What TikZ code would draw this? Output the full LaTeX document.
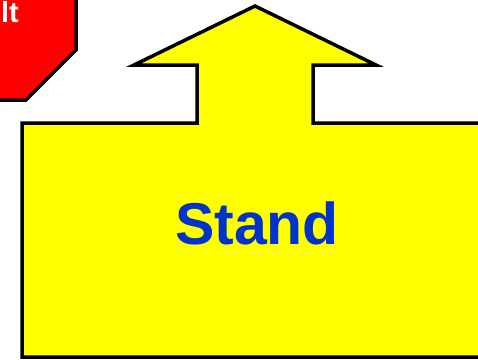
\documentclass[tikz,border=0pt]{standalone}
\usepackage{fontspec}
\setmainfont{Liberation Sans}
\definecolor{standblue}{RGB}{0,51,204}
\definecolor{signred}{RGB}{255,0,0}
\definecolor{signyellow}{RGB}{255,255,0}
\begin{document}
\begin{tikzpicture}[x=1pt,y=1pt,yscale=-1,xscale=1]
\useasboundingbox (0,0) rectangle (478,359);
\clip (0,0) rectangle (478,359);

%Shape: Octagon [id:halt]
\draw [line width=3.5, fill=signred] (-60,-60) -- (76,-60) -- (76,50) -- (26,100) -- (-60,100) -- cycle ;

%Shape: Up Arrow Box [id:stand]
\draw [line width=3.5, fill=signyellow, line join=miter] (22,357) -- (22,123) -- (197,123) -- (197,65) -- (134,65) -- (255,6) -- (376,65) -- (313,65) -- (313,123) -- (500,123) -- (500,357) -- cycle ;

% Text Node
\draw (19,22) node [anchor=base east, inner sep=0, text=white, font=\bfseries\fontsize{29}{29}\selectfont] (halt)  {lt};
% Text Node
\draw (257,244) node [anchor=base, text=standblue, font=\bfseries\fontsize{59}{59}\selectfont] (stand)  {Stand};

\end{tikzpicture}
\end{document}
